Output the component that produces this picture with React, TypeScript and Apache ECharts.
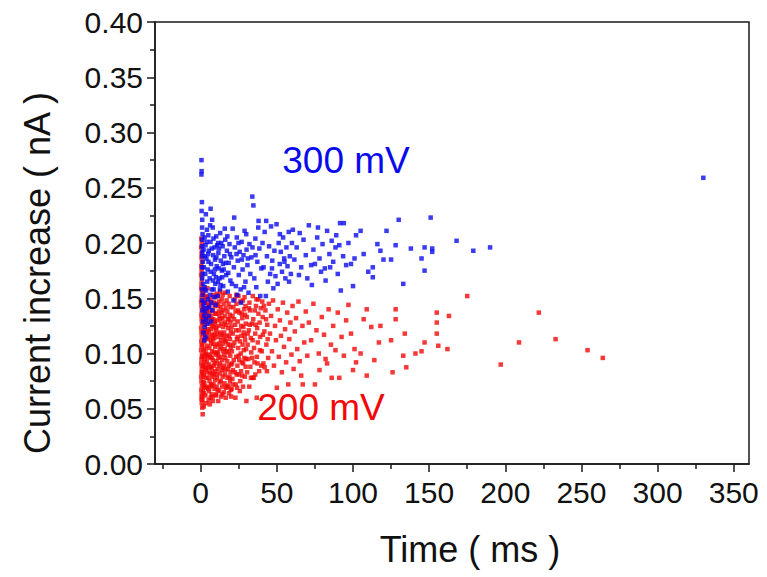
import React, { useEffect, useRef } from "react";
import * as echarts from "echarts";

const xMajorTicks = [0, 50, 100, 150, 200, 250, 300, 350];
const xMinorTicks = [-25, 25, 75, 125, 175, 225, 275, 325];
const yTickLabels = ["0.00", "0.05", "0.10", "0.15", "0.20", "0.25", "0.30", "0.35", "0.40"];

// 300 mV events: [time (ms), current increase (nA)]
const blue300: number[][] = [
  [0.5,0.275],[0.6,0.265],[0.5,0.262],[0.8,0.237],[0.6,0.229],[1,0.221],[0.9,0.214],[1.2,0.208],[1.0,0.203],[0.9,0.197],[1.1,0.192],[1.0,0.188],[1.4,0.183],[0.9,0.178],[1.2,0.172],[1.0,0.168],[1.6,0.163],[0.9,0.158],[1.3,0.153],[1.0,0.148],[1.8,0.143],[1.1,0.139],[2.2,0.134],[1.5,0.129],[2.6,0.124],[1.9,0.119],[3.1,0.115],[2.4,0.112],
  [2.5,0.205],[3.2,0.198],[4.1,0.212],[3.8,0.186],[4.6,0.176],[5.3,0.193],[5.9,0.168],[6.4,0.201],[6.8,0.181],[7.3,0.158],[7.9,0.214],[8.2,0.189],[8.7,0.172],[9.1,0.196],[9.6,0.163],[10.2,0.206],[10.5,0.179],[11.1,0.152],[11.6,0.191],[12.3,0.168],[12.8,0.209],[13.2,0.184],[13.9,0.175],[14.4,0.197],[14.8,0.161],[15.5,0.188],[16.1,0.203],[16.7,0.171],[17.2,0.193],[17.8,0.156],[18.4,0.182],[18.9,0.199],[19.5,0.166],[20.1,0.187],
  [3.5,0.157],[4.8,0.149],[5.6,0.142],[6.1,0.153],[7.0,0.146],[7.6,0.139],[8.9,0.151],[9.8,0.144],[3.0,0.172],[4.3,0.165],[5.1,0.183],[6.6,0.174],[8.4,0.204],[9.4,0.185],[10.8,0.198],[11.9,0.177],[12.6,0.158],[13.5,0.2],[14.1,0.169],[15.1,0.176],[15.8,0.213],[16.4,0.182],[17.5,0.206],[18.1,0.173],[19.2,0.19],[2.8,0.188],[3.9,0.201],[5.0,0.207],[6.2,0.216],[7.2,0.195],[8.0,0.166],[9.3,0.176],[10.0,0.169],[11.3,0.165],[12.0,0.195],[13.0,0.162],[14.6,0.181],[2.3,0.146],[2.9,0.138],[3.6,0.131],[4.4,0.127],[5.4,0.134],[6.8,0.129],[4.0,0.141],[2.6,0.16],[7.5,0.221],[10.3,0.187],[11.5,0.2],[6.5,0.231],[3.4,0.226],[1.9,0.194],[2.1,0.178],[4.9,0.19],[8.5,0.158],
  [21.0,0.213],[21.8,0.178],[22.4,0.196],[23.1,0.161],[23.7,0.205],[24.3,0.184],[25.0,0.171],[25.6,0.192],[26.2,0.158],[26.9,0.201],[27.5,0.176],[28.1,0.189],[28.8,0.211],[29.4,0.165],[30.1,0.194],[30.7,0.18],[31.4,0.155],[32.0,0.199],[32.6,0.172],[33.3,0.187],[33.9,0.242],[34.6,0.234],[35.2,0.168],[35.9,0.204],[36.5,0.16],[37.2,0.183],[37.8,0.214],[38.5,0.195],[39.1,0.152],[39.8,0.177],[22.0,0.223],[24.8,0.2],[27.0,0.185],[29.9,0.208],[31.0,0.186],[34.0,0.196],[36.0,0.189],[38.0,0.22],[21.5,0.148],[24.0,0.153],[26.5,0.146],[28.5,0.16],[20.5,0.163],[23.5,0.19],
  [40.6,0.2],[41.3,0.178],[42.0,0.21],[42.8,0.152],[43.5,0.188],[44.1,0.165],[44.9,0.197],[45.6,0.172],[46.2,0.215],[47.0,0.184],[47.7,0.159],[48.4,0.193],[49.1,0.17],[49.8,0.217],[50.5,0.163],[51.2,0.2],[51.9,0.181],[52.6,0.192],[53.4,0.174],[54.1,0.205],[54.8,0.186],[55.6,0.168],[56.3,0.196],[57.0,0.179],[57.8,0.21],[58.5,0.188],[59.2,0.172],[59.9,0.2],[60.5,0.212],[43.0,0.22],[46.8,0.177],[52.0,0.208],[55.0,0.183],[58.0,0.165],
  [61.5,0.185],[63,0.196],[64.5,0.171],[66,0.178],[67.5,0.203],[69,0.189],[70,0.168],[71,0.216],[72.5,0.18],[74,0.194],[75,0.181],[76.5,0.205],[78,0.186],[79,0.174],[80,0.199],[81.5,0.177],[83,0.211],[84.5,0.19],[86,0.202],[87,0.183],[88.5,0.196],[90,0.172],[91,0.198],[91.5,0.218],[92,0.157],[93.5,0.188],[94,0.218],[95.5,0.18],[97,0.2],[98.7,0.181],[100,0.161],[65,0.209],[73,0.162],[77,0.214],[82,0.166],[85,0.178],[89,0.207],
  [101,0.186],[102,0.207],[105,0.211],[107,0.19],[110,0.174],[113,0.178],[113,0.169],[116,0.199],[118,0.193],[120,0.185],[122,0.211],[125,0.185],[128,0.198],[130,0.221],[133,0.163],[138,0.195],[145,0.186],[147,0.196],[147,0.175],[151,0.223],[152,0.195],[152,0.192],[168,0.202],[179,0.193],[190,0.196],[330,0.259]
];

// 200 mV events: [time (ms), current increase (nA)]
const red200: number[][] = [
  [0.4,0.204],[0.7,0.2],[0.3,0.196],[0.6,0.191],[0.5,0.187],[0.8,0.183],[0.4,0.179],[0.6,0.175],[0.3,0.171],[0.7,0.167],[0.5,0.163],[0.4,0.159],[0.8,0.155],[0.6,0.151],[0.3,0.147],[0.5,0.143],[0.7,0.139],[0.4,0.135],[0.6,0.131],[0.8,0.127],[0.3,0.123],[0.5,0.119],[0.7,0.115],[0.4,0.111],[0.6,0.107],[0.3,0.103],[0.8,0.099],[0.5,0.095],[0.4,0.091],[0.7,0.087],[0.6,0.083],[0.3,0.079],[0.5,0.075],[0.8,0.071],[0.4,0.067],[0.6,0.063],[0.5,0.059],[0.7,0.055],[1.0,0.051],[1.3,0.045],
  [1.2,0.058],[1.5,0.066],[1.8,0.074],[2.1,0.081],[1.4,0.089],[2.6,0.095],[1.9,0.103],[2.3,0.111],[1.6,0.118],[2.8,0.126],[1.3,0.133],[2.0,0.141],[2.5,0.148],[1.7,0.155],[3.1,0.062],[3.4,0.07],[3.7,0.078],[3.2,0.085],[4.0,0.092],[3.5,0.1],[4.3,0.107],[3.8,0.114],[4.6,0.122],[3.3,0.129],[4.1,0.137],[4.8,0.144],[3.9,0.151],[4.4,0.159],[1.1,0.097],[2.2,0.064],[4.9,0.068],[4.5,0.083],[2.7,0.088],[3.0,0.117],[4.2,0.098],[1.9,0.128],[3.6,0.14],[2.4,0.073],[4.7,0.113],[1.5,0.146],[2.0,0.052],[3.5,0.055],
  [0.9,0.061],[1.6,0.079],[2.4,0.092],[1.2,0.108],[2.9,0.121],[1.8,0.137],[3.3,0.152],[2.6,0.158],[3.9,0.069],[4.5,0.096],[3.1,0.104],[4.2,0.119],[2.2,0.132],[4.7,0.131],[1.4,0.12],[2.0,0.07],[4.4,0.146],[2.9,0.099],[1.1,0.083],[3.4,0.135],[3.6,0.087],
  [5.2,0.058],[5.5,0.066],[5.8,0.075],[6.1,0.082],[5.4,0.09],[6.4,0.097],[5.7,0.105],[6.7,0.112],[5.3,0.12],[6.0,0.127],[6.9,0.134],[5.6,0.142],[6.3,0.149],[7.1,0.063],[7.4,0.071],[7.7,0.079],[7.2,0.087],[8.0,0.094],[7.5,0.102],[8.3,0.109],[7.8,0.117],[8.6,0.124],[7.3,0.131],[8.1,0.139],[8.8,0.146],[7.9,0.153],[9.1,0.068],[9.4,0.076],[9.7,0.084],[9.2,0.091],[9.9,0.099],[9.5,0.106],[9.0,0.114],[9.8,0.121],[9.3,0.129],[9.6,0.136],[9.1,0.143],[6.5,0.06],[8.4,0.072],[5.9,0.116],[8.9,0.101],[6.6,0.088],[7.6,0.125],[8.5,0.081],[6.2,0.138],[6.0,0.054],[8.0,0.057],
  [5.1,0.078],[5.9,0.099],[6.6,0.122],[5.3,0.133],[7.0,0.109],[7.8,0.061],[6.3,0.07],[8.6,0.089],[7.3,0.096],[8.9,0.117],[9.5,0.151],[8.3,0.131],[6.8,0.146],[9.9,0.063],[5.6,0.087],[7.6,0.083],[6.9,0.072],[8.1,0.113],[9.2,0.127],
  [10.2,0.062],[10.5,0.07],[10.8,0.078],[11.1,0.086],[10.4,0.093],[11.4,0.1],[10.7,0.108],[11.7,0.115],[10.3,0.123],[11.0,0.13],[11.9,0.138],[10.6,0.145],[11.3,0.152],[12.1,0.066],[12.4,0.074],[12.7,0.082],[12.2,0.089],[13.0,0.097],[12.5,0.104],[13.3,0.112],[12.8,0.119],[13.6,0.127],[12.3,0.134],[13.1,0.142],[13.8,0.149],[12.9,0.156],[14.1,0.07],[14.4,0.079],[14.7,0.087],[14.2,0.094],[14.9,0.102],[14.5,0.109],[14.0,0.117],[14.8,0.124],[14.3,0.132],[14.6,0.139],[13.5,0.061],[11.6,0.096],[13.9,0.085],[10.9,0.118],[11.5,0.057],
  [10.4,0.081],[11.2,0.067],[12.6,0.091],[10.8,0.101],[13.4,0.106],[11.8,0.125],[12.2,0.147],[14.9,0.115],[10.1,0.136],[13.7,0.137],[11.5,0.143],[14.4,0.153],[13.2,0.075],[12.9,0.131],[14.2,0.063],[11.9,0.109],[10.6,0.154],
  [15.2,0.065],[15.6,0.073],[15.9,0.081],[15.3,0.089],[16.2,0.096],[15.7,0.104],[16.5,0.111],[15.4,0.119],[16.8,0.126],[15.8,0.134],[16.4,0.141],[17.0,0.148],[16.1,0.155],[17.3,0.07],[17.6,0.078],[17.9,0.086],[17.4,0.093],[18.2,0.101],[17.7,0.108],[18.5,0.116],[18.0,0.123],[18.8,0.131],[17.5,0.138],[18.3,0.145],[19.0,0.152],[19.3,0.075],[19.6,0.083],[19.9,0.09],[19.4,0.098],[19.7,0.105],[19.2,0.113],[19.8,0.12],[19.5,0.128],[19.1,0.135],[18.6,0.064],[16.5,0.06],[20.0,0.061],
  [15.5,0.099],[16.3,0.085],[17.1,0.116],[18.4,0.089],[15.9,0.128],[17.8,0.131],[19.5,0.142],[16.7,0.069],[18.9,0.079],[15.1,0.145],[17.2,0.102],[19.1,0.108],[16.0,0.112],[18.1,0.071],[19.7,0.067],
  [20.3,0.068],[20.8,0.077],[21.2,0.085],[21.7,0.094],[20.5,0.102],[22.1,0.11],[21.0,0.118],[22.6,0.126],[20.9,0.134],[21.5,0.142],[22.3,0.149],[23.0,0.072],[23.6,0.081],[24.1,0.089],[23.3,0.097],[24.6,0.105],[23.8,0.113],[25.1,0.121],[24.3,0.129],[25.5,0.137],[23.5,0.145],[24.8,0.152],[26.0,0.075],[26.5,0.084],[27.0,0.092],[26.3,0.1],[27.5,0.108],[26.8,0.116],[28.0,0.124],[27.3,0.132],[28.5,0.14],[26.1,0.147],[29.0,0.079],[29.5,0.088],[28.7,0.096],[29.8,0.104],[29.2,0.112],[28.2,0.119],[29.6,0.127],[29.1,0.135],[28.8,0.151],[25.7,0.066],[22.8,0.06],[27.8,0.07],[24.9,0.098],
  [20.6,0.091],[21.4,0.107],[22.5,0.083],[23.2,0.121],[24.5,0.139],[25.3,0.094],[26.6,0.125],[27.2,0.08],[28.3,0.103],[29.4,0.143],[21.9,0.131],[23.9,0.069],[25.8,0.111],[27.7,0.148],[29.7,0.095],[20.2,0.124],[22.9,0.138],[24.2,0.115],[26.9,0.136],[28.9,0.116],[21.1,0.072],[25.0,0.081],[27.9,0.091],[23.4,0.153],
  [30.5,0.083],[31.2,0.095],[30.8,0.108],[31.6,0.121],[30.3,0.133],[32.0,0.146],[32.6,0.088],[33.2,0.101],[32.9,0.114],[33.7,0.127],[32.4,0.139],[34.2,0.152],[34.8,0.078],[35.3,0.092],[35.0,0.105],[35.8,0.118],[34.5,0.131],[36.3,0.143],[36.9,0.097],[37.5,0.11],[37.1,0.123],[37.9,0.136],[36.6,0.149],[38.4,0.084],[39.0,0.115],[38.7,0.128],[39.5,0.141],[40.1,0.102],[40.7,0.133],[40.4,0.147],[41.2,0.091],[41.8,0.12],[42.0,0.0875],[42.5,0.139],[43.1,0.108],[43.7,0.126],[44.3,0.096],[44.8,0.145],[34.0,0.078],[36.8,0.06],[30.0,0.057],[31.9,0.07],
  [30.9,0.118],[32.2,0.126],[33.8,0.096],[35.5,0.139],[37.3,0.091],[38.9,0.103],[40.8,0.117],[42.9,0.131],[44.0,0.113],[31.7,0.141],[34.1,0.112],[36.1,0.126],[39.8,0.089],[41.5,0.143],[43.5,0.084],[33.0,0.078],[37.8,0.149],[35.9,0.081],
  [45.5,0.118],[46.2,0.134],[46.8,0.102],[47.5,0.148],[48.1,0.089],[48.8,0.125],[49.4,0.112],[50.0,0.069],[50.6,0.14],[51.3,0.097],[52.0,0.13],[52.7,0.116],[53.3,0.083],[54.0,0.146],[54.7,0.106],[55.4,0.122],[56.1,0.092],[56.8,0.137],[57.5,0.072],[58.2,0.113],[58.9,0.128],[59.6,0.099],[60.3,0.143],[61.0,0.086],[61.8,0.12],[62.6,0.132],[63.4,0.104],[64.2,0.147],[65.0,0.093],[66.0,0.08],[66.8,0.125],[67.0,0.072],[68.0,0.11],[69.0,0.138],[70.0,0.098],
  [71,0.128],[72.5,0.112],[74,0.145],[75,0.072],[76,0.121],[77.5,0.1],[78,0.085],[79.5,0.133],[81,0.117],[82,0.095],[83,0.091],[84,0.14],[85.5,0.108],[86,0.078],[87,0.125],[88.5,0.103],[90,0.137],[91,0.078],[92.5,0.115],[94,0.098],[95.5,0.13],[97,0.144],[98.7,0.118],[100,0.085],[101,0.104],[102,0.092],[105,0.1],[107,0.131],[109,0.14],[109,0.08],[112,0.124],[114,0.094],
  [117,0.11],[118,0.125],[125,0.112],[126,0.083],[128,0.14],[128,0.131],[133,0.098],[134,0.118],[135,0.0875],[141,0.1],[145,0.102],[147,0.11],[155,0.137],[155,0.128],[155,0.118],[156,0.107],[162,0.104],[163,0.134],[175,0.152],[197,0.09],[209,0.11],[222,0.137],[233,0.113],[254,0.103],[264,0.096]
];

const BLUE = "#0a0aee";
const RED = "#f20808";
const FONT = "Liberation Sans";

export default function App() {
  const ref = useRef<HTMLDivElement>(null);
  useEffect(() => {
    if (!ref.current) return;
    const chart = echarts.init(ref.current, undefined, { renderer: "svg" });
    const axisColor = "#1a1a1a";
    chart.setOption({
      animation: false,
      backgroundColor: "#ffffff",
      grid: {
        left: 155, right: 18, top: 22, bottom: 113,
        show: true, borderColor: axisColor, borderWidth: 1.5, backgroundColor: "transparent",
      },
      xAxis: [
        {
          type: "value", min: -30, max: 360, position: "bottom",
          axisLine: { show: true, onZero: false, lineStyle: { color: axisColor, width: 1.5 } },
          axisTick: { show: true, customValues: xMajorTicks, length: 8, inside: false, lineStyle: { color: axisColor, width: 1.5 } },
          axisLabel: { show: true, customValues: xMajorTicks, fontSize: 30, fontFamily: FONT, color: "#111", margin: 13 },
          splitLine: { show: false },
        },
        {
          type: "value", min: -30, max: 360, position: "bottom",
          axisLine: { show: false, onZero: false },
          axisTick: { show: true, customValues: xMinorTicks, length: 5, inside: false, lineStyle: { color: axisColor, width: 1.5 } },
          axisLabel: { show: false },
          splitLine: { show: false },
        },
      ],
      yAxis: {
        type: "value", min: 0, max: 0.4, interval: 0.05,
        axisLine: { show: true, onZero: false, lineStyle: { color: axisColor, width: 1.5 } },
        axisTick: { show: true, length: 8, lineStyle: { color: axisColor, width: 1.5 } },
        minorTick: { show: true, splitNumber: 2, length: 5, lineStyle: { color: axisColor, width: 1.5 } },
        axisLabel: {
          fontSize: 30, fontFamily: FONT, color: "#111", margin: 12,
          formatter: (v: number) => yTickLabels[Math.round(v / 0.05)] ?? v.toFixed(2),
        },
        splitLine: { show: false },
      },
      graphic: [
        { type: "text", x: 470, y: 549, style: { text: "Time ( ms )", font: `36px "${FONT}"`, fill: "#111", textAlign: "center", textVerticalAlign: "middle" } },
        { type: "text", x: 37, y: 273, rotation: Math.PI / 2, style: { text: "Current increase ( nA )", font: `36px "${FONT}"`, fill: "#111", textAlign: "center", textVerticalAlign: "middle" } },
        { type: "text", x: 346, y: 160, z: 100, style: { text: "300 mV", font: `37px "${FONT}"`, fill: BLUE, textAlign: "center", textVerticalAlign: "middle" } },
        { type: "text", x: 321, y: 407, z: 100, style: { text: "200 mV", font: `37px "${FONT}"`, fill: RED, textAlign: "center", textVerticalAlign: "middle" } },
      ],
      series: [
        {
          name: "200 mV", type: "scatter", data: red200, symbol: "rect", symbolSize: 4.5,
          itemStyle: { color: RED }, z: 2, silent: true,
        },
        {
          name: "300 mV", type: "scatter", data: blue300, symbol: "rect", symbolSize: 4.5,
          itemStyle: { color: BLUE }, z: 3, silent: true,
        },
      ],
    });
    return () => chart.dispose();
  }, []);
  return <div ref={ref} style={{ position: "fixed", left: 0, top: 0, width: 767, height: 577 }} />;
}
